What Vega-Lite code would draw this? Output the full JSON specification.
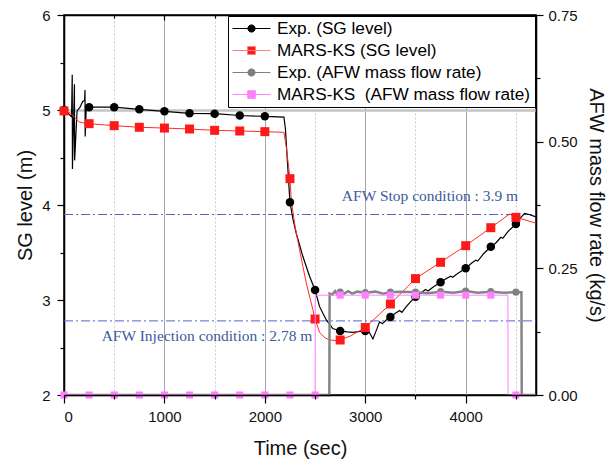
{
  "$schema": "https://vega.github.io/schema/vega-lite/v6.json",
  "width": 472,
  "height": 380,
  "autosize": {"type": "none"},
  "padding": {"left": 64, "top": 15, "right": 78, "bottom": 64},
  "background": "white",
  "config": {
    "view": {"stroke": "#000000", "strokeWidth": 1.5},
    "font": "Liberation Sans",
    "axis": {
      "labelFont": "Liberation Sans", "labelFontSize": 15, "labelColor": "#111111",
      "titleFont": "Liberation Sans", "titleFontSize": 20, "titleFontWeight": "normal", "titleColor": "#111111",
      "domainColor": "#000000", "domainWidth": 1.5, "tickColor": "#000000", "tickWidth": 1.2
    },
    "legend": {
      "labelFont": "Liberation Sans", "labelFontSize": 17.2, "labelColor": "#000000", "labelLimit": 400, "labelOffset": 6,
      "symbolSize": 1444, "symbolStrokeWidth": 1, "symbolOpacity": 1, "clipHeight": 17,
      "strokeColor": "#000000", "fillColor": "#ffffff", "padding": 4, "rowPadding": 4
    }
  },
  "datasets": {
    "sg_exp": [
      {"t":0,"v":5.0,"m":1},{"t":30,"v":4.98,"m":0},{"t":55,"v":4.95,"m":0},{"t":75,"v":4.93,"m":0},
      {"t":82,"v":5.37,"m":0},{"t":84,"v":4.38,"m":0},{"t":104,"v":5.27,"m":0},{"t":106,"v":4.47,"m":0},
      {"t":130,"v":4.99,"m":0},{"t":160,"v":5.03,"m":0},{"t":185,"v":5.09,"m":0},{"t":205,"v":5.1,"m":0},
      {"t":209,"v":5.21,"m":0},{"t":211,"v":4.72,"m":0},{"t":222,"v":5.03,"m":0},
      {"t":250,"v":5.03,"m":1},{"t":500,"v":5.03,"m":1},{"t":750,"v":5.007,"m":1},{"t":1000,"v":4.986,"m":1},
      {"t":1250,"v":4.965,"m":1},{"t":1500,"v":4.961,"m":1},{"t":1750,"v":4.942,"m":1},{"t":2000,"v":4.933,"m":1},
      {"t":2190,"v":4.925,"m":0},{"t":2205,"v":4.8,"m":0},{"t":2225,"v":4.45,"m":0},{"t":2250,"v":4.03,"m":1},
      {"t":2280,"v":3.85,"m":0},{"t":2313,"v":3.7,"m":0},{"t":2378,"v":3.46,"m":0},{"t":2445,"v":3.25,"m":0},
      {"t":2500,"v":3.105,"m":1},{"t":2545,"v":2.93,"m":0},{"t":2612,"v":2.79,"m":0},{"t":2677,"v":2.7,"m":0},
      {"t":2750,"v":2.674,"m":1},{"t":2820,"v":2.665,"m":0},{"t":2877,"v":2.66,"m":0},{"t":2950,"v":2.67,"m":0},
      {"t":3000,"v":2.674,"m":1},{"t":3040,"v":2.66,"m":0},{"t":3076,"v":2.59,"m":0},{"t":3110,"v":2.68,"m":0},
      {"t":3142,"v":2.77,"m":0},{"t":3170,"v":2.75,"m":0},{"t":3209,"v":2.79,"m":0},{"t":3250,"v":2.82,"m":1},
      {"t":3300,"v":2.86,"m":0},{"t":3342,"v":2.89,"m":0},{"t":3365,"v":2.87,"m":0},{"t":3408,"v":2.93,"m":0},
      {"t":3450,"v":2.98,"m":0},{"t":3500,"v":3.035,"m":1},{"t":3560,"v":3.08,"m":0},{"t":3600,"v":3.11,"m":0},
      {"t":3625,"v":3.095,"m":0},{"t":3680,"v":3.14,"m":0},{"t":3750,"v":3.186,"m":1},{"t":3800,"v":3.22,"m":0},
      {"t":3850,"v":3.25,"m":0},{"t":3870,"v":3.24,"m":0},{"t":3920,"v":3.28,"m":0},{"t":4000,"v":3.333,"m":1},
      {"t":4060,"v":3.39,"m":0},{"t":4100,"v":3.42,"m":0},{"t":4120,"v":3.41,"m":0},{"t":4180,"v":3.49,"m":0},
      {"t":4250,"v":3.561,"m":1},{"t":4300,"v":3.6,"m":0},{"t":4350,"v":3.66,"m":0},{"t":4370,"v":3.65,"m":0},
      {"t":4420,"v":3.72,"m":0},{"t":4500,"v":3.8,"m":1},{"t":4550,"v":3.87,"m":0},{"t":4587,"v":3.912,"m":0},
      {"t":4630,"v":3.9,"m":0},{"t":4700,"v":3.875,"m":0}
    ],
    "sg_mars": [
      {"t":0,"v":4.99,"m":1},{"t":60,"v":4.97,"m":0},{"t":100,"v":4.93,"m":0},{"t":150,"v":4.875,"m":0},
      {"t":200,"v":4.862,"m":0},{"t":250,"v":4.856,"m":1},{"t":500,"v":4.835,"m":1},{"t":750,"v":4.818,"m":1},
      {"t":1000,"v":4.81,"m":1},{"t":1250,"v":4.8,"m":1},{"t":1500,"v":4.786,"m":1},{"t":1750,"v":4.779,"m":1},
      {"t":2000,"v":4.772,"m":1},{"t":2190,"v":4.765,"m":0},{"t":2215,"v":4.6,"m":0},{"t":2250,"v":4.277,"m":1},
      {"t":2263,"v":4.05,"m":0},{"t":2300,"v":3.78,"m":0},{"t":2345,"v":3.53,"m":0},{"t":2412,"v":3.18,"m":0},
      {"t":2478,"v":2.9,"m":0},{"t":2500,"v":2.8,"m":1},{"t":2545,"v":2.66,"m":0},{"t":2600,"v":2.6,"m":0},
      {"t":2645,"v":2.58,"m":0},{"t":2700,"v":2.573,"m":0},{"t":2750,"v":2.579,"m":1},{"t":2850,"v":2.62,"m":0},
      {"t":2950,"v":2.68,"m":0},{"t":3000,"v":2.71,"m":1},{"t":3250,"v":2.958,"m":1},{"t":3500,"v":3.225,"m":1},
      {"t":3750,"v":3.397,"m":1},{"t":4000,"v":3.572,"m":1},{"t":4250,"v":3.761,"m":1},{"t":4437,"v":3.905,"m":0},
      {"t":4500,"v":3.87,"m":1},{"t":4700,"v":3.81,"m":0}
    ],
    "afw_exp": [
      {"t":0,"v":0,"m":0},{"t":2642,"v":0,"m":0},{"t":2645,"v":0.2,"m":0},{"t":2670,"v":0.198,"m":0},
      {"t":2700,"v":0.205,"m":0},{"t":2720,"v":0.199,"m":0},{"t":2750,"v":0.203,"m":1},{"t":2790,"v":0.2,"m":0},
      {"t":2830,"v":0.205,"m":0},{"t":2870,"v":0.2,"m":0},{"t":2920,"v":0.204,"m":0},{"t":3000,"v":0.202,"m":1},
      {"t":3100,"v":0.204,"m":0},{"t":3180,"v":0.2,"m":0},{"t":3250,"v":0.203,"m":1},{"t":3350,"v":0.204,"m":0},
      {"t":3500,"v":0.203,"m":1},{"t":3620,"v":0.201,"m":0},{"t":3750,"v":0.204,"m":1},{"t":3880,"v":0.202,"m":0},
      {"t":4000,"v":0.205,"m":1},{"t":4120,"v":0.202,"m":0},{"t":4250,"v":0.204,"m":1},{"t":4380,"v":0.202,"m":0},
      {"t":4500,"v":0.203,"m":1},{"t":4555,"v":0.203,"m":0},{"t":4558,"v":0,"m":0},{"t":4700,"v":0,"m":0}
    ],
    "afw_mars": [
      {"t":0,"v":0,"m":1},{"t":250,"v":0,"m":1},{"t":500,"v":0,"m":1},{"t":750,"v":0,"m":1},{"t":1000,"v":0,"m":1},
      {"t":1250,"v":0,"m":1},{"t":1500,"v":0,"m":1},{"t":1750,"v":0,"m":1},{"t":2000,"v":0,"m":1},{"t":2250,"v":0,"m":1},
      {"t":2500,"v":0,"m":1},{"t":2502,"v":0.197,"m":0},{"t":2750,"v":0.197,"m":1},{"t":3000,"v":0.197,"m":1},
      {"t":3250,"v":0.197,"m":1},{"t":3500,"v":0.197,"m":1},{"t":3750,"v":0.197,"m":1},{"t":4000,"v":0.197,"m":1},
      {"t":4250,"v":0.197,"m":1},{"t":4420,"v":0.197,"m":0},{"t":4422,"v":0,"m":0},{"t":4500,"v":0,"m":1},
      {"t":4700,"v":0,"m":0}
    ],
    "limits": [
      {"t":0,"t2":4700,"v":3.9},
      {"t":0,"t2":4700,"v":2.78}
    ],
    "notes_stop": [{"t":4522,"v":4.04,"label":"AFW Stop condition : 3.9 m"}],
    "notes_inj": [{"t":375,"v":2.57,"label":"AFW Injection condition : 2.78 m"}],
    "no_rows": []
  },
  "layer": [
    {
      "encoding": {
        "x": {
          "field": "t", "type": "quantitative",
          "scale": {"domain": [0, 4700], "nice": false},
          "axis": {
            "orient": "top", "title": null, "labels": false,
            "values": [0, 500, 1000, 1500, 2000, 2500, 3000, 3500, 4000, 4500],
            "tickSize": {"condition": {"test": "datum.value % 1000 != 0", "value": -3}, "value": -5},
            "grid": true,
            "gridColor": {"condition": {"test": "datum.value % 1000 != 0", "value": "#cccccc"}, "value": "#a6a6a6"},
            "gridDash": {"condition": {"test": "datum.value % 1000 != 0", "value": [2, 2]}, "value": []}
          }
        },
        "y": {
          "field": "v", "type": "quantitative",
          "scale": {"domain": [2, 6], "nice": false},
          "axis": {
            "orient": "left", "title": "SG level (m)", "titlePadding": 6,
            "values": [2, 2.5, 3, 3.5, 4, 4.5, 5, 5.5, 6],
            "labelExpr": "datum.value % 1 == 0 ? format(datum.value, 'd') : ''",
            "tickSize": {"condition": {"test": "datum.value % 1 != 0", "value": 4}, "value": 7},
            "labelPadding": 7,
            "grid": true,
            "gridColor": {"condition": {"test": "datum.value == 5", "value": "#c4c4c4"}, "value": {"expr": "datum.value % 1 != 0 ? '#cccccc' : '#a6a6a6'"}},
            "gridWidth": {"condition": {"test": "datum.value == 5", "value": 2.5}, "value": 1},
            "gridDash": {"condition": {"test": "datum.value % 1 != 0", "value": [2, 2]}, "value": []}
          }
        }
      },
      "layer": [
        {
          "data": {"name": "limits"},
          "mark": {"type": "rule", "color": "#4f63d2", "strokeWidth": 1, "strokeDash": [9, 3, 2, 3]},
          "encoding": {"x2": {"field": "t2"}}
        },
        {
          "data": {"name": "notes_stop"},
          "mark": {"type": "text", "align": "right", "baseline": "alphabetic", "font": "Liberation Serif", "fontSize": 15.5, "color": "#3c5a9b"},
          "encoding": {"text": {"field": "label"}}
        },
        {
          "data": {"name": "notes_inj"},
          "mark": {"type": "text", "align": "left", "baseline": "alphabetic", "font": "Liberation Serif", "fontSize": 15.5, "color": "#3c5a9b"},
          "encoding": {"text": {"field": "label"}}
        },
        {
          "data": {"name": "sg_exp"},
          "mark": {"type": "line", "color": "#000000", "strokeWidth": 1.2},
          "encoding": {}
        },
        {
          "data": {"name": "sg_mars"},
          "mark": {"type": "line", "color": "#ff2a2a", "strokeWidth": 1},
          "encoding": {}
        },
        {
          "data": {"name": "sg_exp"},
          "transform": [{"filter": "datum.m == 1"}],
          "mark": {"type": "point", "shape": "circle", "filled": true, "opacity": 1, "size": 72, "color": "#000000"}
        },
        {
          "data": {"name": "sg_mars"},
          "transform": [{"filter": "datum.m == 1"}],
          "mark": {"type": "point", "shape": "square", "filled": true, "opacity": 1, "size": 81, "color": "#ff1a1a"}
        },
        {
          "data": {"name": "no_rows"},
          "mark": {"type": "point", "filled": true, "opacity": 1, "strokeWidth": 1},
          "encoding": {
            "fill": {
              "datum": "Exp. (SG level)",
              "scale": {
                "domain": ["Exp. (SG level)", "MARS-KS (SG level)", "Exp. (AFW mass flow rate)", "MARS-KS\u00a0 (AFW mass flow rate)"],
                "range": ["#000000", "#ff1a1a", "#808080", "#ff80ff"]
              },
              "legend": {"title": null, "orient": "top-right", "offset": 1}
            },
            "stroke": {
              "datum": "Exp. (SG level)",
              "scale": {
                "domain": ["Exp. (SG level)", "MARS-KS (SG level)", "Exp. (AFW mass flow rate)", "MARS-KS\u00a0 (AFW mass flow rate)"],
                "range": ["#000000", "#ff8080", "#808080", "#ff80ff"]
              },
              "legend": {"title": null, "orient": "top-right", "offset": 1}
            },
            "shape": {
              "datum": "Exp. (SG level)",
              "scale": {
                "domain": ["Exp. (SG level)", "MARS-KS (SG level)", "Exp. (AFW mass flow rate)", "MARS-KS\u00a0 (AFW mass flow rate)"],
                "range": [
                  "M-1,0L1,0M0.19,0A0.19,0.19 0 1,1 -0.19,0A0.19,0.19 0 1,1 0.19,0Z",
                  "M-1,0L1,0M-0.21,-0.21L0.21,-0.21L0.21,0.21L-0.21,0.21Z",
                  "M-1,0L1,0M0.19,0A0.19,0.19 0 1,1 -0.19,0A0.19,0.19 0 1,1 0.19,0Z",
                  "M-1,0L1,0M-0.2,-0.2L0.2,-0.2L0.2,0.2L-0.2,0.2Z"
                ]
              },
              "legend": {"title": null, "orient": "top-right", "offset": 1}
            }
          }
        }
      ]
    },
    {
      "encoding": {
        "x": {
          "field": "t", "type": "quantitative",
          "scale": {"domain": [0, 4700], "nice": false},
          "axis": {
            "orient": "bottom", "title": "Time (sec)", "titlePadding": 14,
            "values": [0, 500, 1000, 1500, 2000, 2500, 3000, 3500, 4000, 4500],
            "labelExpr": "datum.value % 1000 == 0 ? format(datum.value, 'd') : ''",
            "tickSize": {"condition": {"test": "datum.value % 1000 != 0", "value": 4}, "value": 8},
            "labelPadding": 6, "grid": false, "zindex": 1
          }
        },
        "y": {
          "field": "v", "type": "quantitative",
          "scale": {"domain": [0, 0.75], "nice": false},
          "axis": {
            "orient": "right", "title": "AFW mass flow rate (kg/s)", "titlePadding": 8,
            "values": [0, 0.125, 0.25, 0.375, 0.5, 0.625, 0.75],
            "labelExpr": "(datum.value * 4) % 1 == 0 ? format(datum.value, '.2f') : ''",
            "tickSize": {"condition": {"test": "(datum.value * 4) % 1 != 0", "value": 4}, "value": 7},
            "labelPadding": 5, "grid": false, "zindex": 1
          }
        }
      },
      "layer": [
        {
          "data": {"name": "afw_exp"},
          "mark": {"type": "line", "color": "#858585", "strokeWidth": 2.5},
          "encoding": {}
        },
        {
          "data": {"name": "afw_exp"},
          "transform": [{"filter": "datum.m == 1"}],
          "mark": {"type": "point", "shape": "circle", "filled": true, "opacity": 1, "size": 50, "color": "#808080"}
        },
        {
          "data": {"name": "afw_mars"},
          "mark": {"type": "line", "color": "#ff80ff", "strokeWidth": 1},
          "encoding": {}
        },
        {
          "data": {"name": "afw_mars"},
          "transform": [{"filter": "datum.m == 1"}],
          "mark": {"type": "point", "shape": "square", "filled": true, "opacity": 1, "size": 50, "color": "#ff80ff"}
        }
      ]
    }
  ],
  "resolve": {"scale": {"y": "independent"}}
}
